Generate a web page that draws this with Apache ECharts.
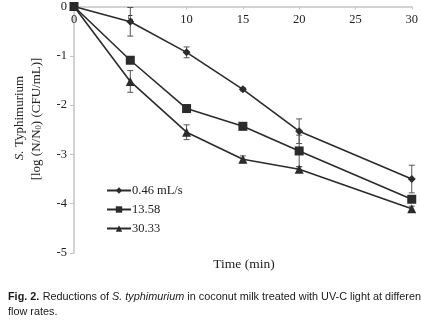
<!DOCTYPE html>
<html>
<head>
<meta charset="utf-8">
<script src="https://cdn.jsdelivr.net/npm/echarts@6/dist/echarts.min.js"></script>
<style>
  html, body { margin: 0; padding: 0; background: #fff; }
  #chart { width: 421px; height: 332px; }
</style>
</head>
<body>
<div id="chart"></div>
<script>
// Treatment time (min)
const times = [0, 5, 10, 15, 20, 30];

// log reduction of S. Typhimurium at each flow rate
const seriesNames = ['0.46 mL/s', '13.58', '30.33'];
const flow046 = [0, -0.31, -0.93, -1.68, -2.53, -3.50];
const flow1358 = [0, -1.09, -2.07, -2.43, -2.93, -3.91];
const flow3033 = [0, -1.52, -2.55, -3.10, -3.30, -4.10];

// standard deviations
const err046 = [0, 0.29, 0.11, 0.03, 0.25, 0.28];
const err1358 = [0, 0.07, 0.07, 0.07, 0.32, 0.06];
const err3033 = [0, 0.22, 0.15, 0.07, 0.05, 0.05];

const yTicks = [0, -1, -2, -3, -4, -5];
const xTicks = [0, 5, 10, 15, 20, 25, 30];

const INK = '#2b2b2b';
const SERIF = '"Liberation Serif", "Times New Roman", serif';
const SANS = '"Liberation Sans", Arial, sans-serif';

function pairs(vals) { return times.map((t, i) => [t, vals[i]]); }

function errorSeries(vals, errs) {
  return {
    type: 'custom',
    silent: true,
    z: 1,
    data: times.map((t, i) => [t, vals[i] - errs[i], vals[i] + errs[i]]),
    renderItem: function (params, api) {
      const lo = api.coord([api.value(0), api.value(1)]);
      const hi = api.coord([api.value(0), api.value(2)]);
      const cap = 3;
      const style = { stroke: '#555', lineWidth: 1 };
      return {
        type: 'group',
        children: [
          { type: 'line', shape: { x1: lo[0], y1: lo[1], x2: hi[0], y2: hi[1] }, style },
          { type: 'line', shape: { x1: lo[0] - cap, y1: lo[1], x2: lo[0] + cap, y2: lo[1] }, style },
          { type: 'line', shape: { x1: hi[0] - cap, y1: hi[1], x2: hi[0] + cap, y2: hi[1] }, style }
        ]
      };
    }
  };
}

function lineSeries(name, vals, symbol, size) {
  return {
    name: name,
    type: 'line',
    data: pairs(vals),
    symbol: symbol,
    symbolSize: size,
    z: 3,
    lineStyle: { color: INK, width: 1.6 },
    itemStyle: { color: INK },
    emphasis: { disabled: true }
  };
}

const chart = echarts.init(document.getElementById('chart'), null, { renderer: 'canvas' });

chart.setOption({
  animation: false,
  backgroundColor: '#fff',
  grid: { left: 74, right: 8, top: 6, bottom: 79, containLabel: false },
  xAxis: {
    type: 'value',
    position: 'top',
    min: 0, max: 30, interval: 5,
    axisLine: { show: true, lineStyle: { color: '#c4c4c4', width: 1.5 } },
    axisTick: { show: true, inside: true, length: 3, lineStyle: { color: '#c4c4c4' } },
    axisLabel: {
      inside: true, margin: 7,
      color: '#222', fontFamily: SERIF, fontSize: 12.5,
      formatter: v => (xTicks.includes(v) ? String(v) : '')
    },
    splitLine: { show: false }
  },
  yAxis: {
    type: 'value',
    min: -5, max: 0, interval: 1,
    axisLine: { show: true, lineStyle: { color: '#c4c4c4', width: 1.5 } },
    axisTick: { show: true, length: 4, lineStyle: { color: '#c4c4c4' } },
    axisLabel: {
      margin: 7,
      color: '#222', fontFamily: SERIF, fontSize: 12.5,
      formatter: v => (yTicks.includes(v) ? String(v) : '')
    },
    splitLine: { show: false }
  },
  legend: {
    orient: 'vertical',
    left: 101, top: 179,
    itemWidth: 24, itemHeight: 8, itemGap: 6,
    data: seriesNames,
    textStyle: { color: '#222', fontFamily: SERIF, fontSize: 12.5, padding: [0, 0, 0, -4] }
  },
  series: [
    errorSeries(flow046, err046),
    errorSeries(flow1358, err1358),
    errorSeries(flow3033, err3033),
    lineSeries(seriesNames[0], flow046, 'diamond', 8),
    lineSeries(seriesNames[1], flow1358, 'rect', 9),
    lineSeries(seriesNames[2], flow3033, 'triangle', 9)
  ],
  graphic: [
    {
      type: 'text',
      x: 244, y: 264,
      style: {
        text: 'Time (min)',
        fill: '#222', font: '13.5px ' + SERIF,
        textAlign: 'center', textVerticalAlign: 'middle'
      }
    },
    {
      type: 'text',
      x: 20, y: 118, rotation: Math.PI / 2,
      style: {
        text: '{i|S.} {r|Typhimurium}',
        rich: {
          i: { fontFamily: SERIF, fontSize: 13, fontStyle: 'italic', fill: '#222' },
          r: { fontFamily: SERIF, fontSize: 13, fill: '#222' }
        },
        textAlign: 'center', textVerticalAlign: 'middle'
      }
    },
    {
      type: 'text',
      x: 36, y: 119, rotation: Math.PI / 2,
      style: {
        text: '{r|[log (N/N}{s|0}{r|) (CFU/mL)]}',
        rich: {
          r: { fontFamily: SERIF, fontSize: 13, fill: '#222', verticalAlign: 'bottom', lineHeight: 15 },
          s: { fontFamily: SERIF, fontSize: 8.5, fill: '#222', verticalAlign: 'bottom', lineHeight: 10, padding: [4, 0, 0, 0] }
        },
        textAlign: 'center', textVerticalAlign: 'middle'
      }
    },
    {
      type: 'text',
      x: 8, y: 291,
      style: {
        text: '{b|Fig. 2.} {r|Reductions of }{i|S. typhimurium}{r| in coconut milk treated with UV-C light at different}',
        rich: {
          b: { fontFamily: SANS, fontSize: 10.85, fontWeight: 'bold', fill: '#1a1a1a' },
          r: { fontFamily: SANS, fontSize: 10.85, fill: '#1a1a1a' },
          i: { fontFamily: SANS, fontSize: 10.85, fontStyle: 'italic', fill: '#1a1a1a' }
        }
      }
    },
    {
      type: 'text',
      x: 8, y: 306,
      style: {
        text: 'flow rates.',
        fill: '#1a1a1a',
        font: '10.85px ' + SANS
      }
    }
  ]
});
</script>
</body>
</html>
